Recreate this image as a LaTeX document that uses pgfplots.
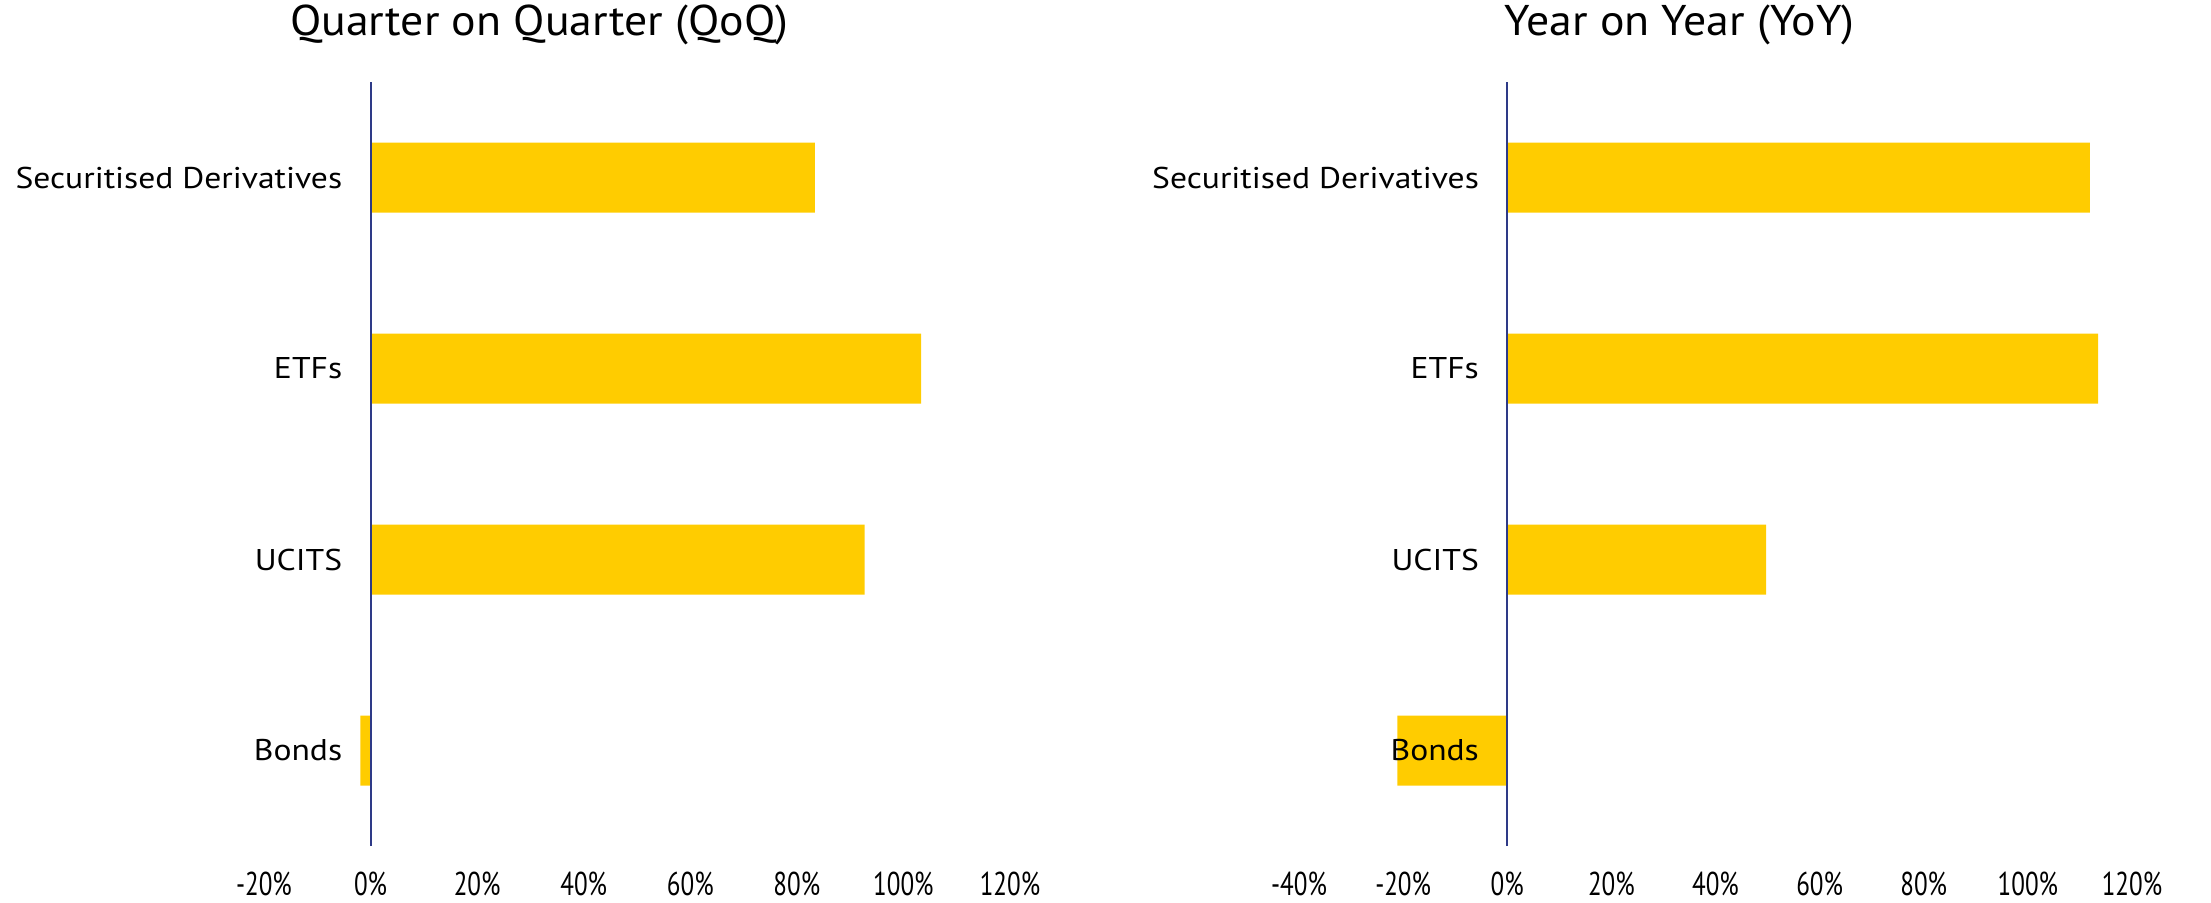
\documentclass[border=0pt]{standalone}
\usepackage{pgfplots}
\pgfplotsset{compat=1.18}
\usepackage{fontspec}
\setmainfont{PT Sans}
\newfontfamily\tickfont[FakeStretch=0.76]{PT Sans}
\newfontfamily\titlefont[FakeStretch=1.065]{PT Sans}
\newfontfamily\catfont[FakeStretch=1.12]{PT Sans}
\definecolor{baryellow}{HTML}{FFCC00}
\definecolor{axisnavy}{HTML}{2E3A87}
\tikzset{
  catlabel/.style={anchor=east, inner sep=0pt, xshift=-14pt, font=\catfont\fontsize{15}{17}\selectfont},
  mybar/.style={xbar, bar width=35pt, bar shift=0pt, fill=baryellow, draw=none},
}
\begin{document}
\begin{tikzpicture}
\path (0,0) rectangle (1105.5pt,451pt);
\pgfplotsset{
  every axis/.append style={
    scale only axis, height=382pt, anchor=south west,
    ymin=-0.5, ymax=3.5, ytick=\empty,
    axis line style={draw=none}, major tick length=0pt,
    tick style={draw=none},
    xticklabel style={font=\tickfont\fontsize{16.5}{18}\selectfont, anchor=center, yshift=-18.75pt, inner sep=0pt},
    title style={anchor=base, yshift=0pt, inner sep=0pt, font=\titlefont\fontsize{21.5}{24}\selectfont},
    clip=false,
  },
}
\begin{axis}[at={(132pt,28pt)}, width=373pt, xmin=-20, xmax=120,
  xtick={-20,0,20,40,60,80,100,120},
  xticklabels={-20\%,0\%,20\%,40\%,60\%,80\%,100\%,120\%},
  title={Quarter on Quarter (QoQ)},
  title style={at={(axis description cs:0.369,1.045)}}]
\addplot[mybar] coordinates {(-1.9,0) (92.7,1) (103.3,2) (83.4,3)};
\draw[axisnavy, line width=1pt] (axis cs:0,-0.5) -- (axis cs:0,3.5);
\node[catlabel] at (axis cs:0,3) {Securitised Derivatives};
\node[catlabel] at (axis cs:0,2) {ETFs};
\node[catlabel] at (axis cs:0,1) {UCITS};
\node[catlabel] at (axis cs:0,0) {Bonds};
\end{axis}
\begin{axis}[at={(649.5pt,28pt)}, width=416.5pt, xmin=-40, xmax=120,
  xtick={-40,-20,0,20,40,60,80,100,120},
  xticklabels={-40\%,-20\%,0\%,20\%,40\%,60\%,80\%,100\%,120\%},
  title={Year on Year (YoY)},
  title style={at={(axis description cs:0.457,1.045)}}]
\addplot[mybar] coordinates {(-21.1,0) (49.7,1) (113.5,2) (111.9,3)};
\draw[axisnavy, line width=1pt] (axis cs:0,-0.5) -- (axis cs:0,3.5);
\node[catlabel] at (axis cs:0,3) {Securitised Derivatives};
\node[catlabel] at (axis cs:0,2) {ETFs};
\node[catlabel] at (axis cs:0,1) {UCITS};
\node[catlabel] at (axis cs:0,0) {Bonds};
\end{axis}
\end{tikzpicture}
\end{document}
